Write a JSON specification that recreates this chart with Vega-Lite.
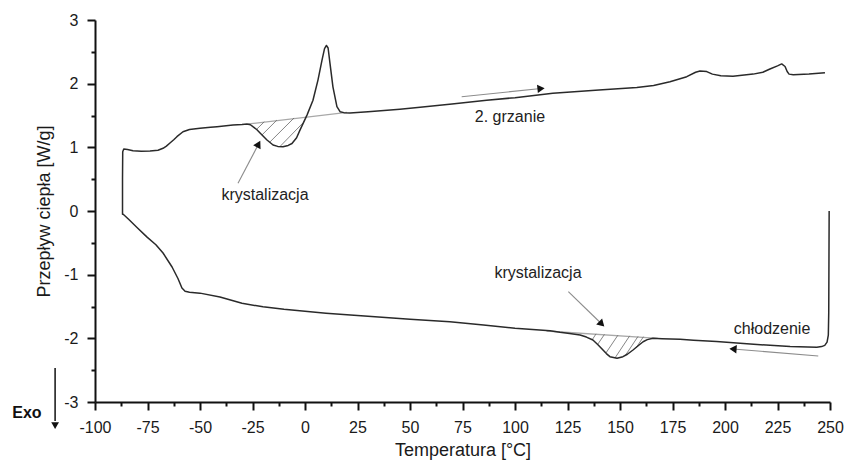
{
  "$schema": "https://vega.github.io/schema/vega-lite/v6.json",
  "width": 735,
  "height": 382,
  "autosize": {"type": "none"},
  "padding": {"left": 95, "top": 20, "right": 16, "bottom": 58},
  "background": "white",
  "config": {
    "view": {"stroke": null},
    "font": "Liberation Sans",
    "text": {"font": "Liberation Sans"}
  },
  "datasets": {
    "curve": [
      {"i": 1, "T": 249.6, "Q": 0.0}, {"i": 2, "T": 249.5, "Q": -0.8}, {"i": 3, "T": 249.4, "Q": -1.6},
      {"i": 4, "T": 249.2, "Q": -1.95}, {"i": 5, "T": 248.6, "Q": -2.06}, {"i": 6, "T": 247.5, "Q": -2.11},
      {"i": 7, "T": 246, "Q": -2.13}, {"i": 8, "T": 243.7, "Q": -2.14}, {"i": 9, "T": 231, "Q": -2.13},
      {"i": 10, "T": 212, "Q": -2.09}, {"i": 11, "T": 196, "Q": -2.05}, {"i": 12, "T": 185, "Q": -2.03},
      {"i": 13, "T": 178.6, "Q": -2.015}, {"i": 14, "T": 170, "Q": -2.005}, {"i": 15, "T": 165.7, "Q": -1.999},
      {"i": 16, "T": 163, "Q": -2.02}, {"i": 17, "T": 161, "Q": -2.053}, {"i": 18, "T": 158.5, "Q": -2.12},
      {"i": 19, "T": 156.2, "Q": -2.183}, {"i": 20, "T": 153.5, "Q": -2.25}, {"i": 21, "T": 151.4, "Q": -2.288},
      {"i": 22, "T": 148.6, "Q": -2.313}, {"i": 23, "T": 145.2, "Q": -2.288}, {"i": 24, "T": 143.5, "Q": -2.24},
      {"i": 25, "T": 141.9, "Q": -2.183}, {"i": 26, "T": 139.5, "Q": -2.1}, {"i": 27, "T": 137.1, "Q": -2.026},
      {"i": 28, "T": 134, "Q": -1.98}, {"i": 29, "T": 131, "Q": -1.947}, {"i": 30, "T": 126, "Q": -1.925},
      {"i": 31, "T": 121.4, "Q": -1.905}, {"i": 32, "T": 116.7, "Q": -1.88}, {"i": 33, "T": 100, "Q": -1.84},
      {"i": 34, "T": 85, "Q": -1.79}, {"i": 35, "T": 69, "Q": -1.74}, {"i": 36, "T": 50, "Q": -1.7},
      {"i": 37, "T": 30, "Q": -1.655}, {"i": 38, "T": 10, "Q": -1.605}, {"i": 39, "T": 0, "Q": -1.575},
      {"i": 40, "T": -10, "Q": -1.545}, {"i": 41, "T": -20, "Q": -1.505}, {"i": 42, "T": -30, "Q": -1.45},
      {"i": 43, "T": -40.5, "Q": -1.35}, {"i": 44, "T": -50, "Q": -1.29}, {"i": 45, "T": -55, "Q": -1.275},
      {"i": 46, "T": -57.1, "Q": -1.26}, {"i": 47, "T": -58.6, "Q": -1.21}, {"i": 48, "T": -60.5, "Q": -1.06},
      {"i": 49, "T": -63.3, "Q": -0.88}, {"i": 50, "T": -67.6, "Q": -0.66}, {"i": 51, "T": -71, "Q": -0.53},
      {"i": 52, "T": -75.2, "Q": -0.41}, {"i": 53, "T": -80, "Q": -0.26}, {"i": 54, "T": -84, "Q": -0.13},
      {"i": 55, "T": -86.7, "Q": -0.047}, {"i": 56, "T": -86.9, "Q": -0.05},
      {"i": 57, "T": -86.9, "Q": 0.5}, {"i": 58, "T": -86.8, "Q": 0.93}, {"i": 59, "T": -86.3, "Q": 0.975},
      {"i": 60, "T": -84.5, "Q": 0.965}, {"i": 61, "T": -81.9, "Q": 0.947}, {"i": 62, "T": -78, "Q": 0.94},
      {"i": 63, "T": -73.8, "Q": 0.943}, {"i": 64, "T": -70, "Q": 0.955}, {"i": 65, "T": -67.6, "Q": 0.985},
      {"i": 66, "T": -66, "Q": 1.02}, {"i": 67, "T": -64.3, "Q": 1.068}, {"i": 68, "T": -62.5, "Q": 1.12},
      {"i": 69, "T": -61, "Q": 1.167}, {"i": 70, "T": -58.1, "Q": 1.245}, {"i": 71, "T": -55, "Q": 1.28},
      {"i": 72, "T": -50, "Q": 1.3}, {"i": 73, "T": -45, "Q": 1.315}, {"i": 74, "T": -41.9, "Q": 1.324},
      {"i": 75, "T": -34.3, "Q": 1.351}, {"i": 76, "T": -30, "Q": 1.36}, {"i": 77, "T": -27.6, "Q": 1.367},
      {"i": 78, "T": -26, "Q": 1.355}, {"i": 79, "T": -24.8, "Q": 1.324}, {"i": 80, "T": -23, "Q": 1.28},
      {"i": 81, "T": -21.4, "Q": 1.225}, {"i": 82, "T": -18.1, "Q": 1.115}, {"i": 83, "T": -15.2, "Q": 1.037},
      {"i": 84, "T": -13, "Q": 1.015}, {"i": 85, "T": -10.5, "Q": 1.01}, {"i": 86, "T": -8, "Q": 1.03},
      {"i": 87, "T": -6.2, "Q": 1.06}, {"i": 88, "T": -4, "Q": 1.15}, {"i": 89, "T": -2.4, "Q": 1.27},
      {"i": 90, "T": 1.0, "Q": 1.51}, {"i": 91, "T": 3.8, "Q": 1.74}, {"i": 92, "T": 6.2, "Q": 2.06},
      {"i": 93, "T": 8.1, "Q": 2.37}, {"i": 94, "T": 9.3, "Q": 2.55}, {"i": 95, "T": 10.2, "Q": 2.6},
      {"i": 96, "T": 11.0, "Q": 2.56}, {"i": 97, "T": 11.9, "Q": 2.32}, {"i": 98, "T": 13.3, "Q": 1.95},
      {"i": 99, "T": 15.2, "Q": 1.64}, {"i": 100, "T": 16.7, "Q": 1.56}, {"i": 101, "T": 18.5, "Q": 1.545},
      {"i": 102, "T": 21.4, "Q": 1.54}, {"i": 103, "T": 30, "Q": 1.56}, {"i": 104, "T": 45.2, "Q": 1.6},
      {"i": 105, "T": 54.8, "Q": 1.63}, {"i": 106, "T": 70, "Q": 1.68}, {"i": 107, "T": 86.5, "Q": 1.74},
      {"i": 108, "T": 100, "Q": 1.78}, {"i": 109, "T": 118, "Q": 1.85}, {"i": 110, "T": 140, "Q": 1.9},
      {"i": 111, "T": 158, "Q": 1.94}, {"i": 112, "T": 166, "Q": 1.97}, {"i": 113, "T": 173.8, "Q": 2.03},
      {"i": 114, "T": 181.8, "Q": 2.11}, {"i": 115, "T": 186, "Q": 2.18}, {"i": 116, "T": 188.1, "Q": 2.2},
      {"i": 117, "T": 191.3, "Q": 2.19}, {"i": 118, "T": 194, "Q": 2.15}, {"i": 119, "T": 198, "Q": 2.125},
      {"i": 120, "T": 203.8, "Q": 2.115}, {"i": 121, "T": 213.4, "Q": 2.15}, {"i": 122, "T": 218, "Q": 2.18},
      {"i": 123, "T": 221.4, "Q": 2.23}, {"i": 124, "T": 225, "Q": 2.28}, {"i": 125, "T": 227, "Q": 2.31},
      {"i": 126, "T": 228.6, "Q": 2.27}, {"i": 127, "T": 229.6, "Q": 2.19}, {"i": 128, "T": 230.5, "Q": 2.15},
      {"i": 129, "T": 232.5, "Q": 2.14}, {"i": 130, "T": 240, "Q": 2.15}, {"i": 131, "T": 247.6, "Q": 2.17}
    ],
    "baselines": [
      {"seg": "heat", "T": -27, "Q": 1.367}, {"seg": "heat", "T": 20, "Q": 1.55},
      {"seg": "cool", "T": 115, "Q": -1.885}, {"seg": "cool", "T": 168, "Q": -2.0}
    ],
    "hatch": [
      {"T": -22.9, "Q": 1.288, "T2": -19.4, "Q2": 1.401},
      {"T": -20.5, "Q": 1.194, "T2": -13.4, "Q2": 1.428},
      {"T": -16.7, "Q": 1.084, "T2": -5.2, "Q2": 1.462},
      {"T": -11.9, "Q": 1.013, "T2": -1.0, "Q2": 1.382},
      {"T": 136.7, "Q": -2.026, "T2": 138.6, "Q2": -1.93},
      {"T": 139.5, "Q": -2.089, "T2": 142.6, "Q2": -1.938},
      {"T": 143.3, "Q": -2.23, "T2": 149.0, "Q2": -1.951},
      {"T": 147.6, "Q": -2.309, "T2": 154.6, "Q2": -1.961},
      {"T": 152.4, "Q": -2.277, "T2": 158.6, "Q2": -1.969},
      {"T": 157.6, "Q": -2.152, "T2": 161.2, "Q2": -1.974}
    ],
    "arrows": [
      {"T": -31.9, "Q": 0.435, "T2": -22.1, "Q2": 1.052},
      {"T": 74.6, "Q": 1.795, "T2": 112.4, "Q2": 1.924},
      {"T": 125.4, "Q": -1.267, "T2": 141.3, "Q2": -1.775},
      {"T": 244.4, "Q": -2.277, "T2": 203.8, "Q2": -2.167}
    ],
    "labels": [
      {"T": -19.05, "Q": 0.251, "text": "krystalizacja"},
      {"T": 97.6, "Q": 1.477, "text": "2. grzanie"},
      {"T": 110.95, "Q": -0.974, "text": "krystalizacja"},
      {"T": 222.4, "Q": -1.853, "text": "chłodzenie"}
    ]
  },
  "encoding": {
    "x": {
      "field": "T", "type": "quantitative",
      "scale": {"domain": [-100, 250], "nice": false, "zero": false},
      "axis": {
        "title": "Temperatura [°C]",
        "values": [-100, -87.5, -75, -62.5, -50, -37.5, -25, -12.5, 0, 12.5, 25, 37.5, 50, 62.5, 75, 87.5, 100, 112.5, 125, 137.5, 150, 162.5, 175, 187.5, 200, 212.5, 225, 237.5, 250],
        "labelExpr": "datum.value % 25 === 0 ? toString(datum.value) : ''",
        "grid": false,
        "domainColor": "#111", "domainWidth": 2,
        "tickColor": "#111", "tickWidth": 2,
        "tickSize": {"condition": {"test": "datum.value % 25 !== 0", "value": 4}, "value": 8},
        "labelPadding": 9,
        "labelFont": "Liberation Sans", "labelFontSize": 16, "labelColor": "#1a1a1a",
        "labelFlush": false, "labelOverlap": false,
        "titleFont": "Liberation Sans", "titleFontSize": 18, "titleFontWeight": "normal", "titleColor": "#1a1a1a",
        "titlePadding": 6
      }
    },
    "y": {
      "field": "Q", "type": "quantitative",
      "scale": {"domain": [-3, 3], "nice": false, "zero": false},
      "axis": {
        "title": "Przepływ ciepła [W/g]",
        "values": [-3, -2.5, -2, -1.5, -1, -0.5, 0, 0.5, 1, 1.5, 2, 2.5, 3],
        "labelExpr": "datum.value % 1 === 0 ? toString(datum.value) : ''",
        "grid": false,
        "domainColor": "#111", "domainWidth": 2,
        "tickColor": "#111", "tickWidth": 2,
        "tickSize": {"condition": {"test": "datum.value % 1 !== 0", "value": 4}, "value": 8},
        "labelPadding": 9,
        "labelFont": "Liberation Sans", "labelFontSize": 16, "labelColor": "#1a1a1a",
        "labelFlush": false, "labelOverlap": false,
        "titleFont": "Liberation Sans", "titleFontSize": 18, "titleFontWeight": "normal", "titleColor": "#1a1a1a",
        "titlePadding": 10
      }
    }
  },
  "layer": [
    {
      "data": {"name": "baselines"},
      "mark": {"type": "line", "color": "#a8a8a8", "strokeWidth": 1.3},
      "encoding": {"detail": {"field": "seg"}}
    },
    {
      "data": {"name": "hatch"},
      "mark": {"type": "rule", "color": "#666", "strokeWidth": 0.8},
      "encoding": {"x2": {"field": "T2"}, "y2": {"field": "Q2"}}
    },
    {
      "data": {"name": "curve"},
      "mark": {"type": "line", "color": "#2a2a2a", "strokeWidth": 1.5, "strokeJoin": "round"},
      "encoding": {"order": {"field": "i", "type": "quantitative"}}
    },
    {
      "data": {"name": "arrows"},
      "mark": {"type": "rule", "color": "#8c8c8c", "strokeWidth": 1.1},
      "encoding": {"x2": {"field": "T2"}, "y2": {"field": "Q2"}}
    },
    {
      "data": {"values": [{"T": -22.1, "Q": 1.052}]},
      "mark": {"type": "point", "shape": "triangle-up", "filled": true, "color": "#111", "opacity": 1, "size": 70, "angle": 28}
    },
    {
      "data": {"values": [{"T": 112.4, "Q": 1.924}]},
      "mark": {"type": "point", "shape": "triangle-up", "filled": true, "color": "#111", "opacity": 1, "size": 70, "angle": 84}
    },
    {
      "data": {"values": [{"T": 141.3, "Q": -1.775}]},
      "mark": {"type": "point", "shape": "triangle-up", "filled": true, "color": "#111", "opacity": 1, "size": 70, "angle": 135}
    },
    {
      "data": {"values": [{"T": 203.8, "Q": -2.167}]},
      "mark": {"type": "point", "shape": "triangle-up", "filled": true, "color": "#111", "opacity": 1, "size": 70, "angle": 274}
    },
    {
      "data": {"name": "labels"},
      "mark": {"type": "text", "font": "Liberation Sans", "fontSize": 16, "color": "#222", "align": "center", "baseline": "middle"},
      "encoding": {"text": {"field": "text"}}
    },
    {
      "data": {"values": [{"T": -132.4, "Q": -3.172, "text": "Exo"}]},
      "mark": {"type": "text", "font": "Liberation Sans", "fontSize": 16, "fontWeight": "bold", "color": "#111", "align": "center", "baseline": "middle"},
      "encoding": {"text": {"field": "text"}}
    },
    {
      "data": {"values": [{"T": -119, "Q": -2.466, "Q2": -3.3}]},
      "mark": {"type": "rule", "color": "#111", "strokeWidth": 1.5},
      "encoding": {"y2": {"field": "Q2"}}
    },
    {
      "data": {"values": [{"T": -119, "Q": -3.37}]},
      "mark": {"type": "point", "shape": "triangle-down", "filled": true, "color": "#111", "opacity": 1, "size": 60}
    }
  ]
}
